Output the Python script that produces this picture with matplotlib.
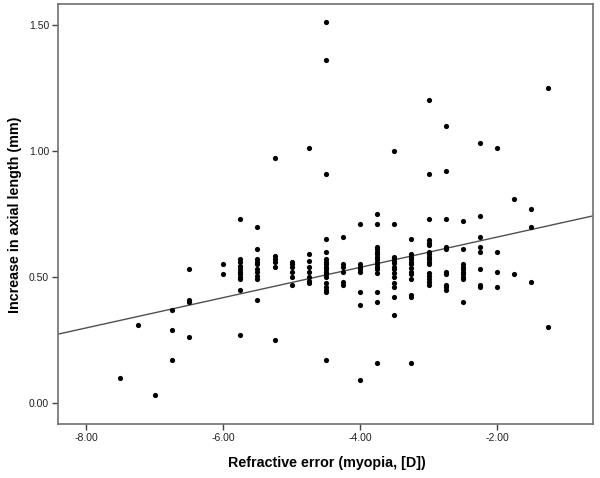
import matplotlib
matplotlib.use("Agg")
import matplotlib.pyplot as plt
import numpy as np

# refractive error columns (D) and the axial length increases (mm) read at each one
refraction = [-7.5, -7.25, -7.0, -6.75, -6.5, -6.0, -5.75, -5.5, -5.25, -5.0,
              -4.75, -4.5, -4.25, -4.0, -3.75, -3.5, -3.25, -3.0, -2.75, -2.5,
              -2.25, -2.0, -1.75, -1.5, -1.25]
increase = [
    [0.10],
    [0.31],
    [0.03],
    [0.37, 0.29, 0.17],
    [0.53, 0.41, 0.40, 0.26],
    [0.55, 0.51],
    [0.73, 0.57, 0.56, 0.545, 0.53, 0.52, 0.51, 0.50, 0.49, 0.45, 0.27],
    [0.70, 0.61, 0.57, 0.56, 0.55, 0.53, 0.52, 0.505, 0.49, 0.41],
    [0.97, 0.585, 0.57, 0.56, 0.54, 0.25],
    [0.56, 0.55, 0.54, 0.52, 0.50, 0.47],
    [1.01, 0.59, 0.565, 0.54, 0.52, 0.50, 0.485, 0.475],
    [1.51, 1.36, 0.91, 0.65, 0.60, 0.57, 0.56, 0.55, 0.54, 0.53, 0.52, 0.51,
     0.50, 0.475, 0.46, 0.45, 0.44, 0.17],
    [0.66, 0.55, 0.54, 0.52, 0.48, 0.47],
    [0.71, 0.55, 0.54, 0.53, 0.52, 0.44, 0.39, 0.09],
    [0.75, 0.71, 0.62, 0.61, 0.60, 0.59, 0.58, 0.57, 0.56, 0.55, 0.54, 0.53,
     0.515, 0.44, 0.40, 0.16],
    [1.00, 0.71, 0.58, 0.575, 0.565, 0.555, 0.54, 0.53, 0.515, 0.50, 0.475,
     0.46, 0.42, 0.35],
    [0.65, 0.59, 0.58, 0.57, 0.56, 0.55, 0.535, 0.52, 0.51, 0.49, 0.43, 0.42, 0.16],
    [1.20, 0.91, 0.73, 0.645, 0.635, 0.625, 0.60, 0.59, 0.58, 0.57, 0.56, 0.55,
     0.515, 0.505, 0.49, 0.48, 0.47],
    [1.10, 0.92, 0.73, 0.62, 0.61, 0.52, 0.51, 0.47, 0.46, 0.45],
    [0.72, 0.61, 0.55, 0.54, 0.53, 0.52, 0.51, 0.50, 0.49, 0.40],
    [1.03, 0.74, 0.66, 0.62, 0.60, 0.53, 0.47, 0.46],
    [1.01, 0.60, 0.52, 0.46],
    [0.81, 0.51],
    [0.77, 0.70, 0.48],
    [1.25, 0.30],
]
# fit line as shown in the original (slope per D, value at 0 D)
fit_slope = 0.060
fit_intercept = 0.778

x_ticks = [-8.0, -6.0, -4.0, -2.0]
y_ticks = [0.0, 0.5, 1.0, 1.5]

plt.rcParams['font.family'] = ['Liberation Sans', 'DejaVu Sans']

x = np.concatenate([[r] * len(v) for r, v in zip(refraction, increase)])
y = np.concatenate(increase)

fig = plt.figure(figsize=(6, 4.78), dpi=100)
ax = fig.add_axes([0.097, 0.113, 0.891, 0.879])

ax.scatter(x, y, s=14, color='black', linewidths=0, zorder=3)

# fit line across the whole plot
xlim = (-8.41, -0.60)
xs = np.array(xlim)
ax.plot(xs, fit_intercept + fit_slope * xs, color='#505050', lw=1.0, zorder=2)

ax.set_xlim(xlim)
ax.set_ylim(-0.083, 1.583)
ax.set_xticks(x_ticks)
ax.set_yticks(y_ticks)
ax.set_xticklabels(['%.2f' % t for t in x_ticks])
ax.set_yticklabels(['%.2f' % t for t in y_ticks])
ax.tick_params(direction='out', length=4.5, width=1, color='#404040',
               labelsize=7.5, labelcolor='#222222', pad=2)

for s in ax.spines.values():
    s.set_color('#707070')
    s.set_linewidth(1.2)

ax.set_xlabel('Refractive error (myopia, [D])', fontsize=10.3, fontweight='bold')
ax.set_ylabel('Increase in axial length (mm)', fontsize=10.3, fontweight='bold')
ax.xaxis.set_label_coords(0.503, -0.077)
ax.yaxis.set_label_coords(-0.067, 0.497)

fig.savefig('out.png', dpi=100)
